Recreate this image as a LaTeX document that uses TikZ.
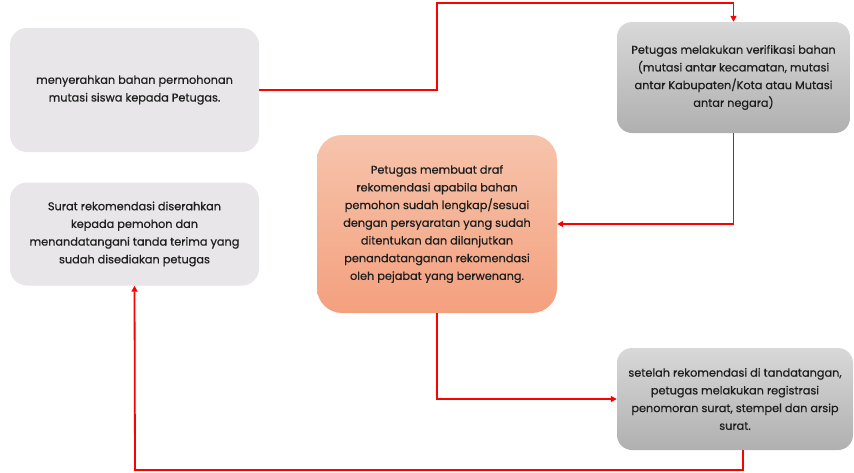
\documentclass[tikz,border=0pt]{standalone}
\usepackage{fontspec}
\setmainfont{Poppins}[FakeBold=0.6]
\usetikzlibrary{arrows.meta}
\definecolor{lightbox}{HTML}{E8E6E8}
\definecolor{graytop}{HTML}{D8D8D8}
\definecolor{graybot}{HTML}{B0B0B0}
\definecolor{salmtop}{HTML}{F6C4AC}
\definecolor{salmbot}{HTML}{F4A07E}
\definecolor{txt}{HTML}{1E1E1E}
\begin{document}
\begin{tikzpicture}[x=1pt,y=-1pt,
  boxbase/.style={rectangle, align=center, text=txt, inner sep=0pt,
    font=\fontsize{11.3}{17.7}\selectfont},
  lightb/.style={boxbase, fill=lightbox, rounded corners=17pt},
  grayb/.style={boxbase, top color=graytop, bottom color=graybot, rounded corners=15pt},
  salmb/.style={boxbase, top color=salmtop, bottom color=salmbot, rounded corners=25pt},
  conn/.style={draw=red, line width=1.8pt, -{Triangle[length=6pt,width=6pt]}}]
\useasboundingbox (0,0) rectangle (854,472);
\node[lightb, minimum width=249pt, minimum height=124pt] (b1) at (134.5,90)
  {menyerahkan bahan permohonan\\mutasi siswa kepada Petugas.};
\node[grayb, minimum width=233pt, minimum height=111pt] (b2) at (733.5,77.5)
  {Petugas melakukan verifikasi bahan\\(mutasi antar kecamatan, mutasi\\antar Kabupaten/Kota atau Mutasi\\antar negara)};
\node[salmb, minimum width=240pt, minimum height=178pt] (b3) at (437,224)
  {Petugas membuat draf\\rekomendasi apabila bahan\\pemohon sudah lengkap/sesuai\\dengan persyaratan yang sudah\\ditentukan dan dilanjutkan\\penandatanganan rekomendasi\\oleh pejabat yang berwenang.};
\node[grayb, minimum width=236pt, minimum height=102pt] (b4) at (735,399)
  {setelah rekomendasi di tandatangan,\\petugas melakukan registrasi\\penomoran surat, stempel dan arsip\\surat.};
\node[lightb, minimum width=249pt, minimum height=103pt] (b5) at (134.5,234)
  {Surat rekomendasi diserahkan\\kepada pemohon dan\\menandatangani tanda terima yang\\sudah disediakan petugas};
\coordinate (c1) at (437,3);
\coordinate (c4) at (135,470);
\draw[conn] (b1.east) -| (c1) -| (b2.north);
\draw[conn] (b2.south) |- (b3.east);
\draw[conn] (b3.south) |- (b4.west);
\draw[conn] ([xshift=8pt]b4.south) |- (c4) -- (b5.south);
\end{tikzpicture}
\end{document}
